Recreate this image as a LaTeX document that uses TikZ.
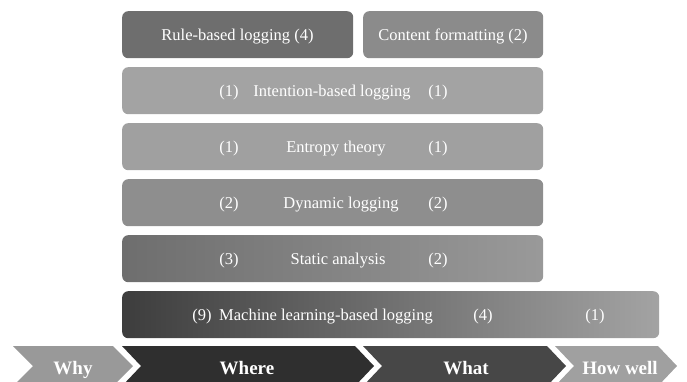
\documentclass[tikz,border=0pt]{standalone}
\usepackage{fontspec}
\setmainfont{Liberation Serif}

\definecolor{rulegray}{HTML}{6E6E6E}
\definecolor{contentgray}{HTML}{8B8B8B}
\definecolor{intentgray}{HTML}{A3A3A3}
\definecolor{entropygray}{HTML}{A0A0A0}
\definecolor{dyngray}{HTML}{8E8E8E}
\definecolor{whygray}{HTML}{999999}
\definecolor{wheregray}{HTML}{2F2F2F}
\definecolor{whatgray}{HTML}{474747}
\definecolor{howgray}{HTML}{A0A0A0}

\tikzset{
    panel/.style={rounded corners=6pt, minimum height=47pt, inner sep=0pt, anchor=north west},
    lbl/.style={text=white, anchor=base, inner sep=0pt, font=\fontsize{16.5}{18}\selectfont},
    stage/.style={text=white, anchor=base, inner sep=0pt, font=\fontsize{19}{22}\selectfont\bfseries},
}

\begin{document}
\begin{tikzpicture}[x=1pt,y=-1pt]
    \useasboundingbox (0,0) rectangle (687,382);
    \clip (0,0) rectangle (687,382);

    % boxes
    \node[panel, fill=rulegray, minimum width=231pt] (rulebox) at (122,11) {};
    \node[panel, fill=contentgray, minimum width=180pt] (contentbox) at (363,11) {};
    \node[panel, fill=intentgray, minimum width=421pt] (intentbox) at (122,67) {};
    \node[panel, fill=entropygray, minimum width=421pt] (entropybox) at (122,123) {};
    \node[panel, fill=dyngray, minimum width=421pt] (dynbox) at (122,179) {};
    \node[panel, left color=rulegray, right color=dyngray!90!white, minimum width=421pt] (staticbox) at (122,235) {};
    \node[panel, left color=black!76, right color=intentgray, minimum width=537pt] (mlbox) at (122,291) {};

    % labels
    \node[lbl] (rule) at (237.5,40.5) {Rule-based logging (4)};
    \node[lbl] (content) at (453,40.5) {Content formatting (2)};

    \node[lbl] (intentA) at (229,96.5) {(1)};
    \node[lbl] (intent) at (332,96.5) {Intention-based logging};
    \node[lbl] (intentB) at (438,96.5) {(1)};

    \node[lbl] (entropyA) at (229,152.5) {(1)};
    \node[lbl] (entropy) at (336,152.5) {Entropy theory};
    \node[lbl] (entropyB) at (438,152.5) {(1)};

    \node[lbl] (dynA) at (229,208.5) {(2)};
    \node[lbl] (dyn) at (341,208.5) {Dynamic logging};
    \node[lbl] (dynB) at (438,208.5) {(2)};

    \node[lbl] (staticA) at (229,264.5) {(3)};
    \node[lbl] (static) at (338,264.5) {Static analysis};
    \node[lbl] (staticB) at (438,264.5) {(2)};

    \node[lbl] (mlA) at (202,320.5) {(9)};
    \node[lbl] (ml) at (326,320.5) {Machine learning-based logging};
    \node[lbl] (mlB) at (483,320.5) {(4)};
    \node[lbl] (mlC) at (595,320.5) {(1)};

    % stages
    \fill[whygray] (13,346) -- (113,346) -- (133,366) -- (113,386) -- (13,386) -- (33,366) -- cycle;
    \fill[wheregray] (122,346) -- (355,346) -- (374,366) -- (355,386) -- (122,386) -- (141,366) -- cycle;
    \fill[whatgray] (363,346) -- (547,346) -- (566,366) -- (547,386) -- (363,386) -- (382,366) -- cycle;
    \fill[howgray] (555,346) -- (658,346) -- (677,366) -- (658,386) -- (555,386) -- (574,366) -- cycle;

    \node[stage] (why) at (73,374) {Why};
    \node[stage] (where) at (247,374) {Where};
    \node[stage] (what) at (466,374) {What};
    \node[stage] (howwell) at (620,374) {How well};
\end{tikzpicture}
\end{document}
